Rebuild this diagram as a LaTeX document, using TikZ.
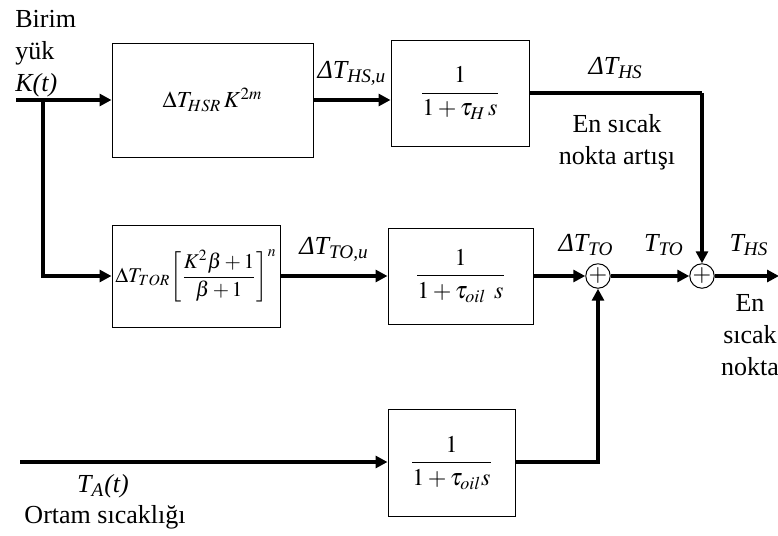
\documentclass[tikz,border=0pt]{standalone}
\usepackage{amsmath}
\usepackage{mathptmx}
\usepackage[no-math]{fontspec}
\setmainfont{Liberation Serif}
\usetikzlibrary{arrows.meta}
\tikzset{
  block/.style={draw, line width=0.5pt, inner sep=0pt, align=center},
  sumjn/.style={draw, circle, line width=0.5pt, minimum size=12pt, inner sep=0pt, font=\fontsize{12}{12}\selectfont},
  arr/.style={-{Triangle[length=6pt,width=6pt]}, line width=1.6pt},
  wire/.style={line width=1.6pt},
  lbl/.style={font=\fontsize{13}{16}\selectfont\itshape, align=center},
  txt/.style={font=\fontsize{13}{16}\selectfont, align=center}
}

\begin{document}
\begin{tikzpicture}[x=0.5pt, y=-0.5pt, font=\fontsize{12}{15.5}\selectfont]
\useasboundingbox (0,0) rectangle (778,536);
% blocks
\node[block, minimum width=100.5pt, minimum height=57pt, font=\fontsize{11.5}{14}\selectfont] (hsr) at (212.5,100) {$\Delta T_{HSR}\,K^{2m}$};
\node[block, minimum width=69pt, minimum height=53pt] (tauh) at (460,93) {$\dfrac{1}{1+\tau_H\,s}$};
\node[block, minimum width=84pt, minimum height=51pt, font=\fontsize{10.5}{12}\selectfont] (tor) at (196,276) {$\Delta T_{TOR}\!\left[\dfrac{K^2\beta+1}{\beta+1}\right]^{n}$};
\node[block, minimum width=72.5pt, minimum height=48pt] (tauo) at (460.5,276) {$\dfrac{1}{1+\tau_{oil}\;\,s}$};
\node[block, minimum width=63.5pt, minimum height=53.5pt] (taua) at (451.5,463) {$\dfrac{1}{1+\tau_{oil}s}$};
\node[sumjn] (sumto) at (598,276) {$+$};
\node[sumjn] (sumhs) at (702,276) {$+$};
% free ends
\coordinate (kin) at (16,100);
\coordinate (split) at (43,100);
\coordinate (tain) at (20,462);
\coordinate (hsout) at (779,276);
% texts
\node[txt, anchor=north west, align=left, inner sep=0pt] (birim) at (15,10) {Birim\\yük\\\textit{K(t)}};
\node[txt] (artis) at (617,142) {En sıcak\\nokta artışı};
\node[txt] (nokta) at (750,335) {En\\sıcak\\nokta};
\node[lbl] (ta) at (103,486) {T\textsubscript{A}(t)};
\node[txt] (ortam) at (105,517) {Ortam sıcaklığı};
\node[lbl] (dto) at (586,245) {ΔT\textsubscript{TO}};
\node[lbl] (tto) at (664,245) {T\textsubscript{TO}};
\node[lbl] (ths) at (749,245) {T\textsubscript{HS}};
% connectors
\draw[arr] (kin) -- (hsr.west |- kin);
\draw[arr] (split) |- (tor.west);
\draw[arr] (hsr.east |- kin) -- node[lbl, above=3pt] {ΔT\textsubscript{HS,u}} (tauh.west |- kin);
\draw[wire] (tauh.east) -- node[lbl, above=3pt] {ΔT\textsubscript{HS}} (tauh.east -| sumhs);
\draw[arr] (tauh.east -| sumhs) -- (sumhs.north);
\draw[arr] (tor.east) -- node[lbl, above=3pt] {ΔT\textsubscript{TO,u}} (tauo.west);
\draw[arr] (tauo.east) -- (sumto.west);
\draw[arr] (sumto.east) -- (sumhs.west);
\draw[arr] (sumhs.east) -- (hsout);
\draw[arr] (tain) -- (taua.west |- tain);
\draw[arr] (taua.east |- tain) -| (sumto.south);
\end{tikzpicture}
\end{document}
